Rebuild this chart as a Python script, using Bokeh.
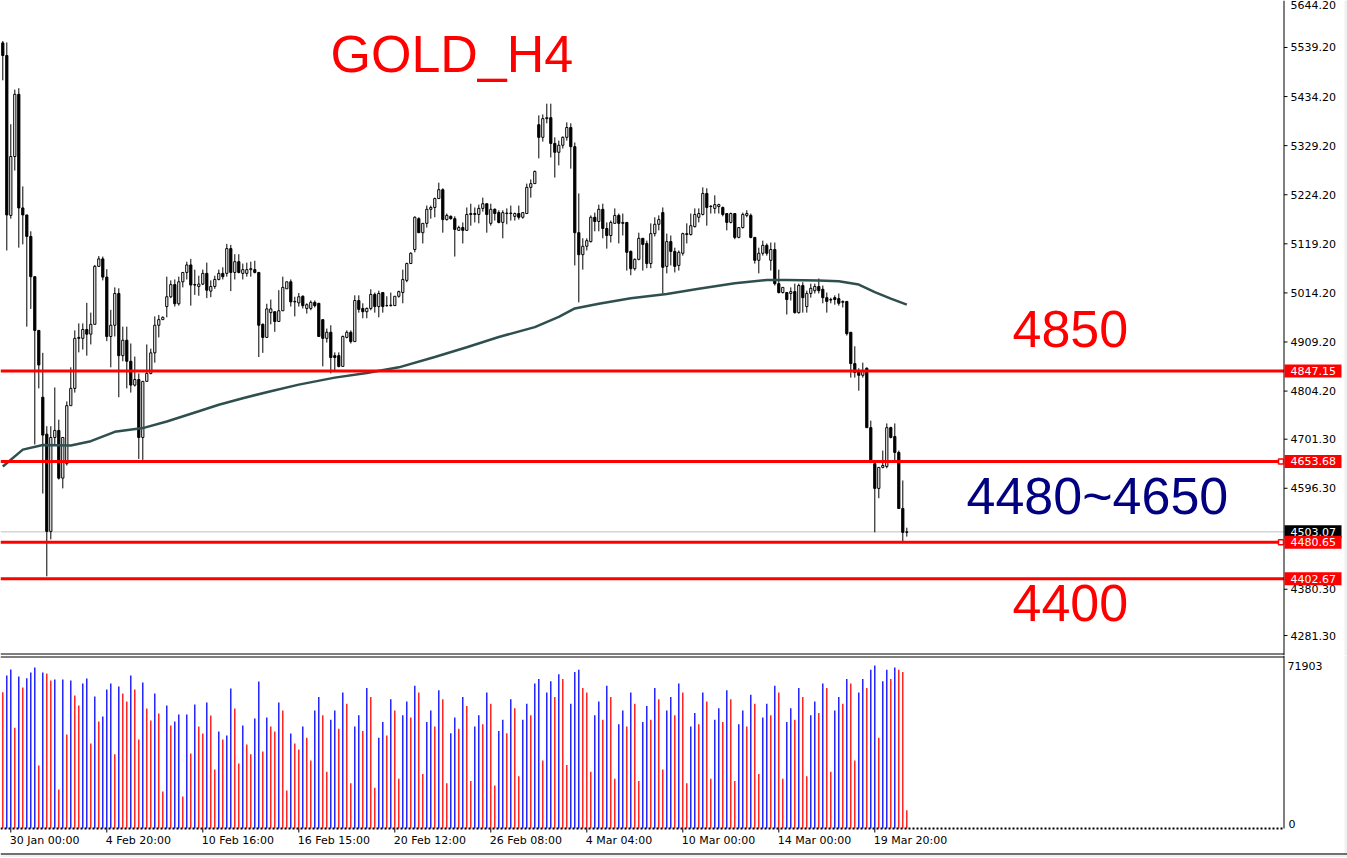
import numpy as np
from bokeh.plotting import figure
from bokeh.layouts import column
from bokeh.models import Range1d, ColumnDataSource
from bokeh.core.properties import value
from bokeh.embed import file_html
from bokeh.resources import INLINE

# ---------------- data ----------------
opens = [5549, 5522, 5180, 5306, 5439, 5196, 5181, 5135, 5049, 4934,
         4791, 4712, 4504, 4705, 4720, 4618, 4649, 4773, 4810, 4917,
         4917, 4936, 4926, 4947, 5071, 5087, 5048, 4921, 4945, 5013,
         4880, 4913, 4868, 4817, 4829, 4705, 4825, 4842, 4886, 4945,
         4957, 4985, 5006, 5032, 4991, 5038, 5058, 5074, 5032, 5028,
         5033, 5056, 5018, 5028, 5043, 5056, 5056, 5109, 5058, 5081,
         5056, 5056, 5064, 5064, 5058, 4947, 4919, 4972, 4974, 4953,
         4976, 5023, 5038, 4995, 4993, 5007, 4981, 4981, 4994, 4992,
         4957, 4917, 4930, 4880, 4880, 4857, 4919, 4930, 4910, 4998,
         4981, 4974, 4981, 5011, 4985, 5015, 4987, 4987, 4987, 5007,
         5015, 5041, 5077, 5107, 5173, 5143, 5163, 5193, 5197, 5216,
         5235, 5171, 5178, 5173, 5148, 5154, 5148, 5182, 5182, 5182,
         5195, 5205, 5163, 5193, 5186, 5165, 5184, 5184, 5178, 5184,
         5176, 5184, 5240, 5248, 5374, 5347, 5387, 5389, 5334, 5315,
         5330, 5347, 5368, 5327, 5143, 5096, 5114, 5124, 5176, 5167,
         5193, 5152, 5137, 5163, 5180, 5163, 5165, 5103, 5066, 5086,
         5131, 5120, 5077, 5141, 5161, 5186, 5071, 5124, 5103, 5073,
         5099, 5139, 5139, 5156, 5176, 5182, 5227, 5199, 5195, 5199,
         5197, 5184, 5165, 5184, 5133, 5154, 5180, 5180, 5133, 5084,
         5099, 5116, 5084, 5107, 5034, 5015, 5015, 5013, 5017, 4972,
         5030, 4985, 5013, 5019, 5028, 5022, 5004, 5000, 5004, 5002,
         4994, 4996, 4930, 4863, 4846, 4838, 4853, 4726, 4649, 4596,
         4641, 4643, 4726, 4707, 4673, 4553, 4502]

highs = [5553, 5550, 5375, 5449, 5452, 5242, 5181, 5146, 5049, 4934,
         4886, 4729, 4729, 4812, 4743, 4705, 4782, 4855, 4934, 4949,
         4949, 4993, 4972, 5074, 5093, 5092, 5065, 4978, 5026, 5024,
         4942, 4942, 4906, 4878, 4842, 4825, 4904, 4895, 4964, 4967,
         4964, 5049, 5041, 5043, 5049, 5058, 5081, 5087, 5064, 5051,
         5064, 5079, 5041, 5051, 5064, 5069, 5119, 5117, 5097, 5097,
         5077, 5079, 5081, 5083, 5058, 4949, 4991, 5000, 4974, 5020,
         5049, 5038, 5043, 5006, 5014, 5009, 4992, 4998, 4998, 4992,
         4957, 4938, 4945, 4887, 4887, 4923, 4934, 4934, 5009, 5009,
         4992, 4983, 5022, 5015, 5019, 5015, 5007, 5015, 5007, 5019,
         5064, 5079, 5101, 5178, 5176, 5163, 5201, 5201, 5218, 5250,
         5238, 5184, 5180, 5178, 5158, 5165, 5197, 5205, 5197, 5203,
         5218, 5205, 5205, 5195, 5191, 5191, 5195, 5201, 5186, 5201,
         5186, 5248, 5257, 5276, 5394, 5396, 5419, 5419, 5347, 5340,
         5349, 5379, 5377, 5336, 5227, 5131, 5131, 5180, 5186, 5203,
         5205, 5165, 5169, 5195, 5184, 5184, 5165, 5105, 5088, 5143,
         5131, 5126, 5163, 5176, 5180, 5197, 5141, 5137, 5111, 5105,
         5143, 5163, 5184, 5195, 5195, 5240, 5238, 5201, 5223, 5205,
         5199, 5184, 5186, 5184, 5154, 5186, 5191, 5184, 5133, 5111,
         5126, 5120, 5122, 5122, 5064, 5026, 5015, 5026, 5034, 5034,
         5037, 5019, 5034, 5034, 5045, 5030, 5015, 5004, 5009, 5013,
         4998, 4996, 4930, 4900, 4853, 4865, 4855, 4741, 4649, 4641,
         4677, 4735, 4728, 4735, 4677, 4613, 4512]

lows = [5469, 5105, 5173, 5276, 5111, 5118, 4942, 4980, 4690, 4810,
        4585, 4408, 4487, 4690, 4615, 4596, 4645, 4773, 4801, 4887,
        4893, 4880, 4904, 4947, 5071, 5041, 4911, 4855, 4921, 4791,
        4868, 4810, 4801, 4814, 4659, 4657, 4825, 4840, 4865, 4919,
        4957, 4962, 5003, 4985, 4987, 5026, 5043, 4987, 5010, 5008,
        5031, 5003, 5005, 5023, 5041, 5043, 5049, 5018, 5043, 5056,
        5043, 5049, 5049, 5056, 4877, 4886, 4919, 4947, 4931, 4953,
        4976, 5023, 4985, 4964, 4985, 4981, 4970, 4977, 4983, 4921,
        4857, 4908, 4842, 4848, 4855, 4857, 4917, 4906, 4910, 4972,
        4960, 4960, 4977, 4972, 4962, 4972, 4985, 4985, 4987, 5004,
        4992, 5037, 5077, 5101, 5143, 5120, 5154, 5173, 5176, 5216,
        5143, 5169, 5171, 5092, 5148, 5120, 5148, 5158, 5165, 5163,
        5188, 5143, 5158, 5169, 5163, 5131, 5161, 5169, 5169, 5171,
        5173, 5184, 5218, 5248, 5302, 5338, 5377, 5304, 5261, 5287,
        5323, 5340, 5280, 5073, 4994, 5064, 5105, 5122, 5146, 5146,
        5131, 5109, 5122, 5163, 5120, 5137, 5062, 5052, 5062, 5084,
        5062, 5067, 5067, 5135, 5148, 5013, 5056, 5073, 5058, 5062,
        5094, 5120, 5137, 5154, 5165, 5180, 5158, 5184, 5184, 5184,
        5178, 5148, 5163, 5129, 5131, 5152, 5176, 5131, 5077, 5056,
        5094, 5094, 5062, 5030, 5013, 5013, 4968, 4998, 4970, 4970,
        4972, 4972, 5004, 5013, 5013, 4992, 4972, 4992, 4989, 4987,
        4983, 4923, 4833, 4833, 4805, 4833, 4726, 4650, 4502, 4575,
        4639, 4639, 4703, 4656, 4553, 4483, 4493]

closes = [5522, 5181, 5306, 5439, 5196, 5181, 5135, 5049, 4934, 4860,
          4710, 4504, 4705, 4720, 4618, 4705, 4773, 4810, 4917, 4919,
          4936, 4926, 4947, 5071, 5087, 5048, 4921, 4945, 5013, 4880,
          4913, 4868, 4817, 4829, 4705, 4825, 4842, 4886, 4945, 4957,
          4962, 5006, 5032, 4991, 5038, 5058, 5074, 5031, 5031, 5033,
          5056, 5020, 5028, 5043, 5056, 5049, 5109, 5058, 5081, 5058,
          5064, 5064, 5066, 5058, 4945, 4919, 4980, 4980, 4953, 4976,
          5026, 5038, 4995, 4996, 5006, 4987, 4989, 4994, 4987, 4921,
          4917, 4930, 4876, 4876, 4857, 4921, 4930, 4910, 4998, 4979,
          4974, 4981, 5011, 4985, 5013, 4985, 4987, 4988, 5007, 5017,
          5043, 5077, 5099, 5176, 5143, 5163, 5193, 5197, 5216, 5235,
          5171, 5180, 5173, 5150, 5154, 5148, 5182, 5184, 5184, 5195,
          5205, 5182, 5193, 5184, 5165, 5186, 5185, 5185, 5184, 5176,
          5186, 5240, 5248, 5274, 5347, 5387, 5389, 5334, 5315, 5330,
          5347, 5368, 5327, 5143, 5096, 5114, 5126, 5176, 5167, 5193,
          5152, 5137, 5165, 5180, 5163, 5165, 5101, 5066, 5086, 5131,
          5118, 5077, 5141, 5161, 5171, 5069, 5124, 5103, 5071, 5101,
          5141, 5141, 5158, 5182, 5184, 5227, 5197, 5200, 5203, 5203,
          5182, 5165, 5184, 5133, 5154, 5182, 5184, 5133, 5084, 5099,
          5116, 5099, 5107, 5034, 5015, 5026, 5000, 5017, 4972, 5030,
          5004, 5013, 5024, 5028, 5019, 5004, 4996, 4999, 5000, 4992,
          4996, 4927, 4863, 4844, 4838, 4846, 4726, 4656, 4596, 4641,
          4645, 4726, 4705, 4673, 4553, 4502, 4503.07]

volumes = [60100, 67500, 70100, 44400, 67100, 62200, 66300, 68800, 71000, 27800,
           68800, 68400, 65300, 65700, 17200, 65700, 41500, 65300, 58700, 54300,
           64000, 66200, 37500, 58200, 47200, 49400, 61300, 64000, 32700, 62600,
           59600, 56000, 67500, 61300, 39300, 64400, 52900, 47600, 59600, 50700,
           16300, 54300, 45400, 47200, 50300, 14100, 50300, 33100, 54700, 45000,
           41900, 55600, 49900, 26000, 42800, 39300, 41000, 61800, 52900, 28700,
           45400, 37100, 32700, 48500, 64800, 34000, 49000, 45000, 42800, 55600,
           52100, 16800, 41900, 37500, 34900,
           45000, 40000, 30000, 52000, 58000, 50000,
           25000, 48000, 52000, 44000, 60000, 55000,
           20000, 45000, 50000, 43000, 62000, 58000,
           18000, 40000, 47000, 41000, 57000, 52000,
           22000, 50000, 56000, 49000, 63000, 60000,
           24000, 47000, 52000, 45000, 61000, 57000,
           20000, 42000, 49000, 44000, 58000, 54000,
           21000, 45000, 50000, 46000, 60000, 55000,
           19000, 43000, 48000, 42000, 57000, 53000,
           23000, 48000, 55000, 50000, 64000, 66000,
           30000, 60000, 65000, 58000, 68000, 66000,
           28000, 55000, 69000, 70000, 62000, 60000,
           25000, 50000, 56000, 48000, 63000, 58000,
           22000, 46000, 52000, 45000, 60000, 55000,
           21000, 47000, 54000, 48000, 62000, 57000,
           26000, 52000, 58000, 50000, 64000, 60000,
           20000, 45000, 51000, 46000, 60000, 56000,
           22000, 48000, 53000, 47000, 61000, 57000,
           21000, 46000, 52000, 45000, 59000, 55000,
           24000, 49000, 55000, 50000, 63000, 60000,
           22000, 47000, 53000, 48000, 62000, 58000,
           23000, 50000, 56000, 51000, 64000, 62000,
           25000, 52000, 58000, 55000, 66000, 64000,
           30000, 60000, 66000, 62000, 70000, 71903,
           40000, 65000, 70000, 66000, 71000, 70000,
           69000, 8000]

# moving average, read at sample bars
ma_bar = [0, 5, 10, 17, 22, 28, 35, 41, 49, 54, 60, 67, 74, 83, 91, 99, 108, 116,
          124, 133, 139, 143, 149, 157, 166, 174, 183, 191, 196, 204, 209, 214,
          218, 222, 226]
ma_val = [4643, 4679, 4689, 4688, 4697, 4717, 4725, 4739, 4761, 4775, 4789, 4804,
          4818, 4833, 4843, 4855, 4877, 4898, 4920, 4941, 4963, 4981, 4991, 5003,
          5012, 5023, 5035, 5042, 5042, 5041, 5039, 5032, 5016, 5002, 4989]

price_ticks = [5539.20, 5434.20, 5329.20, 5224.20, 5119.20, 5014.20, 4909.20,
               4804.20, 4701.30, 4596.30, 4380.30, 4281.30]
top_tick = 5644.20
time_labels = ["30 Jan 00:00", "4 Feb 20:00", "10 Feb 16:00", "16 Feb 15:00",
               "20 Feb 12:00", "26 Feb 08:00", "4 Mar 04:00", "10 Mar 00:00",
               "14 Mar 00:00", "19 Mar 20:00"]
time_label_bars = [2, 26, 50, 74, 98, 122, 146, 170, 194, 218]
level_prices = [4847.15, 4653.68, 4480.65, 4402.67]
marked_levels = [4653.68, 4480.65]
bid_price = 4503.07
vol_max_label = 71903

# ---------------- layout (pixel geometry of the MT4 window) ----------------
W = 1347
H_P = 655          # price panel height
H_V = 202          # volume panel + time scale height
PX_BAR = 4.0       # pixels per bar
X0 = -0.575        # bar coordinate at the left edge
PRICE_TOP = 5639.7 # price at the top edge
PPX = 2.1391       # price units per pixel
VPX = vol_max_label / 163.0  # volume units per pixel
AXIS_PX = 1283.5
TICK_FONT = "DejaVu Sans"
GRAY = "#F0F0F0"


def bx(px):
    return X0 + px / PX_BAR


def py(ypx):
    return PRICE_TOP - ypx * PPX


def vy(ypx):
    return (828 - ypx) * VPX


def base_fig(height, x_range, y_range):
    f = figure(width=W, height=height, x_range=x_range, y_range=y_range,
               output_backend="svg", toolbar_location=None,
               x_axis_location=None, y_axis_location=None,
               min_border_left=0, min_border_right=0, min_border_top=0, min_border_bottom=0)
    f.grid.visible = False
    f.outline_line_color = None
    f.background_fill_color = "white"
    f.border_fill_color = "white"
    return f


n = len(opens)
bars = list(range(n))
tops = [max(o, c) for o, c in zip(opens, closes)]
bots = [min(o, c) for o, c in zip(opens, closes)]
fills = ["white" if c >= o else "black" for o, c in zip(opens, closes)]
src = ColumnDataSource(dict(x=bars, h=highs, l=lows, top=tops, bot=bots, fill=fills))

# ---------------- price panel ----------------
xr = Range1d(bx(0), bx(W))
p = base_fig(H_P, xr, Range1d(py(H_P), py(0)))

# bid line (behind the bars)
p.segment(x0=[bx(0)], y0=[bid_price], x1=[bx(AXIS_PX)], y1=[bid_price],
          line_color="#C0C0C0", line_width=1)

# candles
p.segment(x0="x", y0="h", x1="x", y1="l", source=src, line_color="black", line_width=1)
p.vbar(x="x", top="top", bottom="bot", width=0.55, source=src, fill_color="fill",
       line_color="black", line_width=1)

# moving average (drawn over the bars)
p.line(ma_bar, ma_val, line_color="#2F4F4F", line_width=2.5)

# level lines
p.segment(x0=[bx(0)] * len(level_prices), y0=level_prices,
          x1=[bx(AXIS_PX)] * len(level_prices), y1=level_prices,
          line_color="#FF0000", line_width=3)

# panel border (bottom) and right price scale
p.segment(x0=[bx(0)], y0=[py(653.5)], x1=[bx(AXIS_PX)], y1=[py(653.5)],
          line_color="black", line_width=1)
p.segment(x0=[bx(AXIS_PX)], y0=[py(0)], x1=[bx(AXIS_PX)], y1=[py(H_P)],
          line_color="black", line_width=1)
p.segment(x0=[bx(AXIS_PX)] * len(price_ticks), y0=price_ticks,
          x1=[bx(1287)] * len(price_ticks), y1=price_ticks, line_color="black", line_width=1)
p.text(x=[bx(1290)] * len(price_ticks), y=price_ticks,
       text=[f"{t:.2f}" for t in price_ticks], text_font=value(TICK_FONT),
       text_font_size="11px", text_baseline="middle", text_align="left", text_color="black")
# top scale value sits at the very top edge
p.text(x=[bx(1290)], y=[py(0.5)], text=[f"{top_tick:.2f}"], text_font=value(TICK_FONT),
       text_font_size="11px", text_baseline="top", text_align="left", text_color="black")

# price tags on the scale
half = 6.5 * PPX
p.quad(left=[bx(1284)], right=[bx(1341)], top=[bid_price + half], bottom=[bid_price - half],
       fill_color="black", line_color=None)
p.text(x=[bx(1290)], y=[bid_price], text=[f"{bid_price:.2f}"], text_font=value(TICK_FONT),
       text_font_size="11px", text_baseline="middle", text_align="left", text_color="white")
p.quad(left=[bx(1284)] * len(level_prices), right=[bx(1341)] * len(level_prices),
       top=[lv + half for lv in level_prices], bottom=[lv - half for lv in level_prices],
       fill_color="#FF0000", line_color=None)
p.text(x=[bx(1290)] * len(level_prices), y=level_prices,
       text=[f"{lv:.2f}" for lv in level_prices], text_font=value(TICK_FONT),
       text_font_size="11px", text_baseline="middle", text_align="left", text_color="white")
p.scatter(x=[bx(1280.5)] * len(marked_levels), y=marked_levels, marker="square", size=5,
          fill_color="white", line_color="#FF0000", line_width=1.5)

# window edge on the right
p.quad(left=[bx(1344)], right=[bx(W)], top=[py(0)], bottom=[py(H_P)],
       fill_color=GRAY, line_color=None)

# annotation texts (left edge and baseline position in window pixels)
notes = [("GOLD_H4", 330, 53, "#FF0000"),
         ("4850", 1012, 328, "#FF0000"),
         ("4480~4650", 966, 495, "#000080"),
         ("4400", 1012, 602, "#FF0000")]
p.text(x=[bx(nx) for _, nx, _, _ in notes], y=[py(ny) for _, _, ny, _ in notes],
       text=[t for t, _, _, _ in notes], text_color=[c for _, _, _, c in notes],
       text_font=value("Liberation Sans"), text_font_size="52px",
       text_baseline="alphabetic", text_align="left")

# ---------------- volume panel + time scale ----------------
vcol = ["#FF0000"] + ["#0000FF" if volumes[i] > volumes[i - 1] else "#FF0000"
                      for i in range(1, n)]
vsrc = ColumnDataSource(dict(x=bars, v=volumes, z=[0] * n, c=vcol))

v = base_fig(H_V, xr, Range1d(vy(H_P + H_V), vy(H_P)))
v.segment(x0="x", y0="z", x1="x", y1="v", source=vsrc, line_color="c", line_width=1.3)

# top border, right scale, zero line
v.segment(x0=[bx(0)], y0=[vy(656.5)], x1=[bx(AXIS_PX)], y1=[vy(656.5)],
          line_color="black", line_width=1)
v.segment(x0=[bx(AXIS_PX)], y0=[vy(H_P)], x1=[bx(AXIS_PX)], y1=[0],
          line_color="black", line_width=1)
v.segment(x0=[bx(0)], y0=[0], x1=[bx(AXIS_PX)], y1=[0], line_color="black",
          line_width=2, line_dash="2 2")
v.text(x=[bx(1287)], y=[vol_max_label], text=[str(vol_max_label)], text_font=value(TICK_FONT),
       text_font_size="11px", text_baseline="middle", text_align="left", text_color="black")
v.text(x=[bx(1288)], y=[vy(823)], text=["0"], text_font=value(TICK_FONT),
       text_font_size="11px", text_baseline="middle", text_align="left", text_color="black")

# time scale
v.segment(x0=time_label_bars, y0=[0] * len(time_label_bars), x1=time_label_bars,
          y1=[vy(832)] * len(time_label_bars), line_color="black", line_width=1)
v.text(x=[b - 0.25 for b in time_label_bars], y=[vy(840)] * len(time_label_bars),
       text=time_labels, text_font=value(TICK_FONT), text_font_size="11px",
       text_baseline="middle", text_align="left", text_color="black")

# window edges
v.quad(left=[bx(1344)], right=[bx(W)], top=[vy(H_P)], bottom=[vy(H_P + H_V)],
       fill_color=GRAY, line_color=None)
v.quad(left=[bx(0)], right=[bx(W)], top=[vy(854.5)], bottom=[vy(H_P + H_V)],
       fill_color=GRAY, line_color=None)
v.segment(x0=[bx(0)], y0=[vy(853.5)], x1=[bx(W)], y1=[vy(853.5)],
          line_color="#404040", line_width=1.5)

layout = column(p, v, spacing=0)
open("out.html", "w").write(file_html(layout, INLINE))
